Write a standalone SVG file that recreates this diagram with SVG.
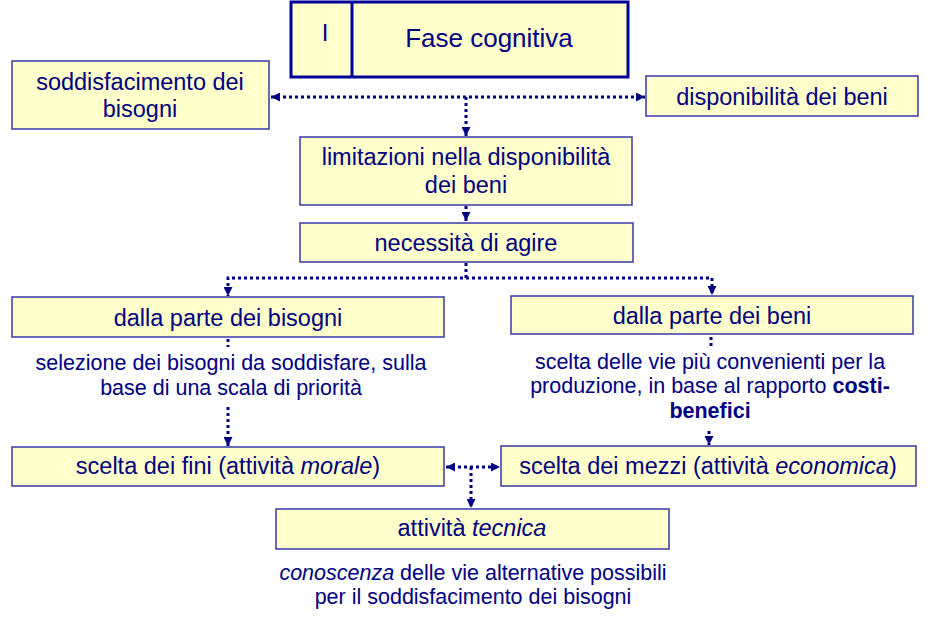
<svg xmlns="http://www.w3.org/2000/svg" width="948" height="625" viewBox="0 0 948 625">
<style>
.box{fill:#FFFFCC;stroke:#3838A8;stroke-width:1.5}
.big{fill:#FFFFCC;stroke:#000099;stroke-width:3}
.t{font-family:"Liberation Sans",Arial,sans-serif;fill:#000080;text-anchor:middle}
.l{font-size:23.5px}
.s{font-size:21.5px}
.c{fill:none;stroke:#000080;stroke-width:3;stroke-dasharray:3 3}
</style>
<defs>
<marker id="ah" viewBox="0 0 10 10" refX="10" refY="5" markerWidth="9" markerHeight="9" markerUnits="userSpaceOnUse" orient="auto-start-reverse">
<path d="M0,0 L10,5 L0,10 z" fill="#000080"/>
</marker>
</defs>
<rect width="948" height="625" fill="#FFFFFF"/>
<g id="connectors">
<path class="c" d="M271,97 H645" marker-start="url(#ah)" marker-end="url(#ah)"/>
<path class="c" d="M466,97 V136" marker-end="url(#ah)"/>
<path class="c" d="M466,206 V221" marker-end="url(#ah)"/>
<path class="c" d="M466,263 V278 H228 V296" marker-end="url(#ah)"/>
<path class="c" d="M466,278 H712 V295" marker-end="url(#ah)"/>
<path class="c" d="M228,339 V347"/>
<path class="c" d="M228,407 V446" marker-end="url(#ah)"/>
<path class="c" d="M711,337 V346"/>
<path class="c" d="M709,431 V445" marker-end="url(#ah)"/>
<path class="c" d="M446,467 H500" marker-start="url(#ah)" marker-end="url(#ah)"/>
<path class="c" d="M471,467 V508" marker-end="url(#ah)"/>
</g>
<g id="fase">
<rect class="big" x="291" y="2" width="337" height="75"/>
<line x1="352" y1="2" x2="352" y2="77" stroke="#000099" stroke-width="3"/>
<text class="t" x="325" y="41" style="font-size:24px">I</text>
<text class="t" x="489" y="47" style="font-size:26px">Fase cognitiva</text>
</g>
<g id="soddisfacimento">
<rect class="box" x="12" y="61" width="257" height="68"/>
<text class="t l" x="140" y="90">soddisfacimento dei</text>
<text class="t l" x="140" y="117">bisogni</text>
</g>
<g id="disponibilita">
<rect class="box" x="646" y="76" width="272" height="40"/>
<text class="t l" x="782" y="105">disponibilità dei beni</text>
</g>
<g id="limitazioni">
<rect class="box" x="300" y="137" width="332" height="68"/>
<text class="t l" x="466" y="165">limitazioni nella disponibilità</text>
<text class="t l" x="466" y="193">dei beni</text>
</g>
<g id="necessita">
<rect class="box" x="300" y="223" width="333" height="39"/>
<text class="t l" x="466" y="251">necessità di agire</text>
</g>
<g id="parte-bisogni">
<rect class="box" x="12" y="297" width="432" height="40"/>
<text class="t l" x="228" y="326">dalla parte dei bisogni</text>
</g>
<g id="parte-beni">
<rect class="box" x="511" y="296" width="402" height="38"/>
<text class="t l" x="712" y="324">dalla parte dei beni</text>
</g>
<g id="selezione">
<text class="t s" x="231" y="370">selezione dei bisogni da soddisfare, sulla</text>
<text class="t s" x="231" y="395">base di una scala di priorità</text>
</g>
<g id="scelta-vie">
<text class="t s" x="710" y="369">scelta delle vie più convenienti per la</text>
<text class="t s" x="710" y="393">produzione, in base al rapporto <tspan font-weight="bold">costi-</tspan></text>
<text class="t s" x="710" y="418" font-weight="bold">benefici</text>
</g>
<g id="fini">
<rect class="box" x="12" y="447" width="432" height="39"/>
<text class="t l" x="228" y="474">scelta dei fini (attività <tspan font-style="italic">morale</tspan>)</text>
</g>
<g id="mezzi">
<rect class="box" x="501" y="446" width="415" height="40"/>
<text class="t l" x="708" y="474">scelta dei mezzi (attività <tspan font-style="italic">economica</tspan>)</text>
</g>
<g id="tecnica">
<rect class="box" x="276" y="509" width="393" height="40"/>
<text class="t l" x="472" y="536">attività <tspan font-style="italic">tecnica</tspan></text>
</g>
<g id="conoscenza">
<text class="t s" x="473" y="580"><tspan font-style="italic">conoscenza</tspan> delle vie alternative possibili</text>
<text class="t s" x="473" y="604">per il soddisfacimento dei bisogni</text>
</g>
</svg>
